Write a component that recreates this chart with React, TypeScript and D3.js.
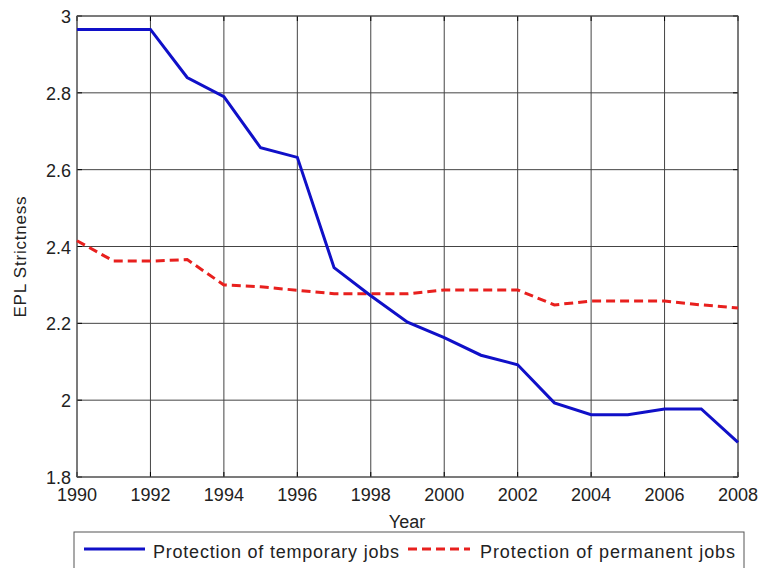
import React from "react";
import * as d3 from "d3";

const years = [1990,1991,1992,1993,1994,1995,1996,1997,1998,1999,2000,2001,2002,2003,2004,2005,2006,2007,2008];
const temporary = [2.965,2.965,2.965,2.84,2.79,2.657,2.632,2.345,2.272,2.203,2.163,2.117,2.092,1.993,1.962,1.962,1.977,1.977,1.89];
const permanent = [2.415,2.362,2.362,2.366,2.3,2.295,2.286,2.277,2.277,2.277,2.287,2.287,2.287,2.248,2.258,2.258,2.258,2.248,2.24];
const xTicks = [1990,1992,1994,1996,1998,2000,2002,2004,2006,2008];
const yTicks = [1.8,2,2.2,2.4,2.6,2.8,3];
const seriesNames = ["Protection of temporary jobs","Protection of permanent jobs"];

export default function App() {
  const W = 761, H = 568;
  const L = 77, R = 738, T = 16, B = 477;
  const x = d3.scaleLinear().domain([1990, 2008]).range([L, R]);
  const y = d3.scaleLinear().domain([1.8, 3]).range([B, T]);
  const line = d3.line<number>().x((_, i) => x(years[i])).y(d => y(d));
  const font = "'Liberation Sans', Arial, sans-serif";
  return (
    <svg width={W} height={H} style={{ position: "absolute", left: 0, top: 0 }}>
      <rect x={0} y={0} width={W} height={H} fill="#fff" />
      {xTicks.map(t => (
        <line key={"gx" + t} x1={x(t)} x2={x(t)} y1={T} y2={B} stroke="#444" strokeWidth={1} />
      ))}
      {yTicks.map(t => (
        <line key={"gy" + t} x1={L} x2={R} y1={y(t)} y2={y(t)} stroke="#444" strokeWidth={1} />
      ))}
      {xTicks.map(t => (
        <g key={"tx" + t}>
          <line x1={x(t)} x2={x(t)} y1={B} y2={B - 5} stroke="#000" />
          <line x1={x(t)} x2={x(t)} y1={T} y2={T + 5} stroke="#000" />
        </g>
      ))}
      {yTicks.map(t => (
        <g key={"ty" + t}>
          <line x1={L} x2={L + 5} y1={y(t)} y2={y(t)} stroke="#000" />
          <line x1={R} x2={R - 5} y1={y(t)} y2={y(t)} stroke="#000" />
        </g>
      ))}
      <rect x={L} y={T} width={R - L} height={B - T} fill="none" stroke="#555" strokeWidth={1} />
      <path d={line(permanent) || ""} fill="none" stroke="#e8201e" strokeWidth={3} strokeDasharray="9,5" />
      <path d={line(temporary) || ""} fill="none" stroke="#1010c8" strokeWidth={3} />
      {yTicks.map(t => (
        <text key={"yl" + t} x={L - 6} y={y(t) + 7} textAnchor="end" fontFamily={font} fontSize={18} fill="#222">{d3.format("~g")(t)}</text>
      ))}
      {xTicks.map(t => (
        <text key={"xl" + t} x={x(t)} y={B + 24} textAnchor="middle" fontFamily={font} fontSize={18} fill="#222">{t}</text>
      ))}
      <text x={407} y={528} textAnchor="middle" fontFamily={font} fontSize={18} fill="#222">Year</text>
      <text transform={`translate(26,257) rotate(-90)`} textAnchor="middle" fontFamily={font} fontSize={17} textLength={121} fill="#222">EPL Strictness</text>
      <rect x={74} y={532} width={670} height={50} fill="#fff" stroke="#555" strokeWidth={1} />
      <line x1={84} x2={145} y1={549} y2={549} stroke="#1010c8" strokeWidth={3} />
      <text x={153} y={558} fontFamily={font} fontSize={18} textLength={246} fill="#222">{seriesNames[0]}</text>
      <line x1={408} x2={470} y1={549} y2={549} stroke="#e8201e" strokeWidth={3} strokeDasharray="9,5" />
      <text x={480} y={558} fontFamily={font} fontSize={18} textLength={255} fill="#222">{seriesNames[1]}</text>
    </svg>
  );
}
